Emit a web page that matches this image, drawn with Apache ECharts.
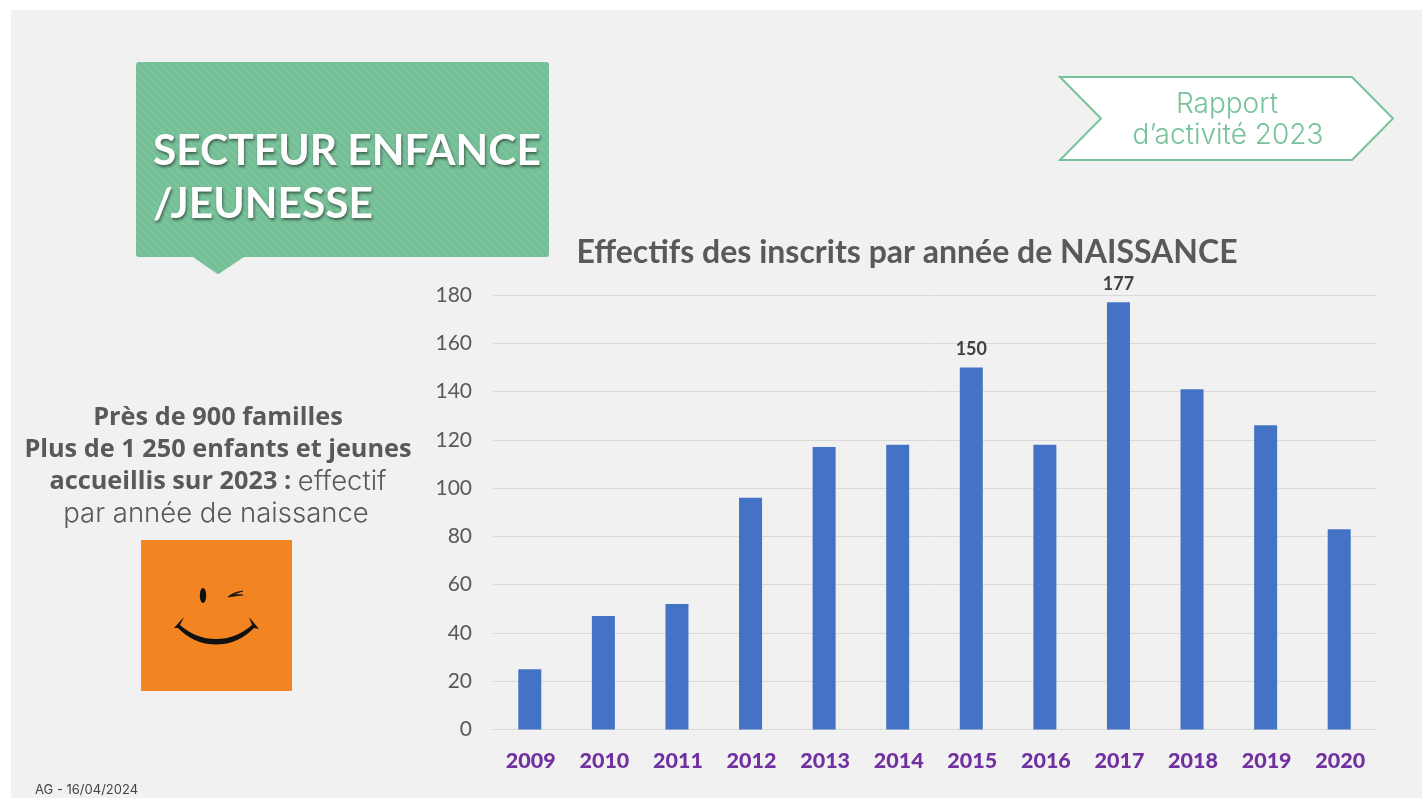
<!DOCTYPE html>
<html>
<head>
<meta charset="utf-8">
<title>Effectifs des inscrits par année de naissance</title>
<script src="https://cdn.jsdelivr.net/npm/echarts@6/dist/echarts.min.js"></script>
<style>
  html, body { margin: 0; padding: 0; background: #fff; overflow: hidden; }
  #chart { width: 1422px; height: 798px; }
</style>
</head>
<body>
<div id="chart"></div>
<script>
// données
const years = ["2009", "2010", "2011", "2012", "2013", "2014", "2015", "2016", "2017", "2018", "2019", "2020"];
const inscrits = [25, 47, 52, 96, 117, 118, 150, 118, 177, 141, 126, 83];
const labelledYears = ["2015", "2017"];
const chartTitle = "Effectifs des inscrits par année de NAISSANCE";
const sectorLines = ["SECTEUR ENFANCE", "/JEUNESSE"];
const reportLines = ["Rapport", "d’activité 2023"];
const footer = "AG - 16/04/2024";

const green = "#78c29a";
const greyText = "#595959";

// le composant graphic ne connait pas "path" : on enregistre nos formes
echarts.graphic.registerShape("callout", echarts.graphic.extendPath(
  "M139 62H546Q549 62 549 65V254Q549 257 546 257H244L220 273Q218 275 216 273L193 257H139Q136 257 136 254V65Q136 62 139 62Z", {}));
echarts.graphic.registerShape("wink", echarts.graphic.extendPath(
  "M228 597Q233 592 243 591Q237 593 233 595Q238 594 243 595Q235 596 228 597Z", {}));
echarts.graphic.registerShape("smile", echarts.graphic.extendPath(
  "M174 628L184 617L180 625Q196 639 216 639Q236 639 252 625L249 617L259 629L254 628Q238 644.5 216 644.5Q194 644.5 178 628Z", {}));

// rayures du bandeau vert
function stripes() {
  const c = document.createElement("canvas");
  c.width = 8;
  c.height = 8;
  const ctx = c.getContext("2d");
  ctx.fillStyle = "#74bf96";
  ctx.fillRect(0, 0, 8, 8);
  ctx.strokeStyle = "#7dc49e";
  ctx.lineWidth = 2.5;
  [-8, 0, 8, 16].forEach(function (o) {
    ctx.beginPath();
    ctx.moveTo(o, 0);
    ctx.lineTo(o + 8, 8);
    ctx.stroke();
  });
  return c;
}

function txt(x, y, text, size, weight, color, family, align, extra) {
  return {
    type: "text",
    x: x,
    y: y,
    z: 5,
    style: Object.assign({
      text: text,
      font: weight + " " + size + "px " + family,
      fill: color,
      align: align || "center",
      verticalAlign: "middle"
    }, extra || {})
  };
}

const gothic = "Inter, 'Noto Sans', sans-serif";
const boldSans = "'Open Sans', 'Noto Sans', sans-serif";
const titleShadow = { textShadowColor: "rgba(0,0,0,0.5)", textShadowBlur: 3, textShadowOffsetX: 1, textShadowOffsetY: 2 };

const decorations = [
  // fond de la diapo
  { type: "rect", z: -10, shape: { x: 11, y: 10, width: 1411, height: 788 }, style: { fill: "#f1f1f1" } },
  // bandeau vert
  { type: "callout", z: 1, style: { fill: { type: "pattern", image: stripes(), repeat: "repeat" } } },
  txt(153, 151, sectorLines[0], 42.5, "bold", "#ffffff", "Lato, sans-serif", "left", titleShadow),
  txt(153, 204, sectorLines[1], 42.5, "bold", "#ffffff", "Lato, sans-serif", "left", titleShadow),
  // flèche rapport d'activité
  {
    type: "polygon",
    z: 1,
    shape: { points: [[1060, 77], [1352, 77], [1393, 118.5], [1352, 160], [1060, 160], [1101, 118.5]] },
    style: { fill: "#ffffff", stroke: green, lineWidth: 2 }
  },
  txt(1227, 105, reportLines[0], 28, "300", green, gothic),
  txt(1228, 136, reportLines[1], 28, "300", green, gothic),
  // texte de gauche
  txt(218, 418, "Près de 900 familles", 25.3, "bold", greyText, boldSans),
  txt(218, 450, "Plus de 1 250 enfants et jeunes", 25.3, "bold", greyText, boldSans),
  {
    type: "text",
    x: 218,
    y: 482,
    z: 5,
    style: {
      rich: {
        b: { font: "bold 25.3px " + boldSans, fill: greyText },
        r: { font: "300 27.5px " + gothic, fill: greyText }
      },
      text: "{b|accueillis sur 2023 : }{r|effectif}",
      align: "center",
      verticalAlign: "middle"
    }
  },
  txt(216, 514, "par année de naissance", 27.5, "300", greyText, gothic),
  // carré orange et smiley
  { type: "rect", z: 1, shape: { x: 141, y: 540, width: 151, height: 151 }, style: { fill: "#f28522" } },
  { type: "ellipse", z: 2, shape: { cx: 203, cy: 595.5, rx: 3.2, ry: 7.5 }, style: { fill: "#111" } },
  { type: "wink", z: 2, style: { fill: "#111", stroke: "#111", lineWidth: 0.6 } },
  { type: "smile", z: 2, style: { fill: "#111" } },
  // pied de page
  txt(35, 790, footer, 13, "normal", "#444444", gothic, "left")
];

const chart = echarts.init(document.getElementById("chart"));
chart.setOption({
  animation: false,
  backgroundColor: "transparent",
  title: {
    text: chartTitle,
    left: 902,
    top: 232,
    textAlign: "center",
    textStyle: { fontFamily: "Lato, sans-serif", fontSize: 32, fontWeight: "bold", color: greyText }
  },
  grid: { left: 493, right: 46, top: 295, bottom: 68.5, containLabel: false },
  xAxis: {
    type: "category",
    data: years,
    axisTick: { show: false },
    axisLine: { lineStyle: { color: "#d9d9d9", width: 1 } },
    axisLabel: {
      margin: 21,
      padding: [0, 0, 0, 2],
      fontFamily: "Lato, sans-serif",
      fontSize: 21.5,
      fontWeight: 900,
      color: "#7030a0"
    }
  },
  yAxis: {
    type: "value",
    min: 0,
    max: 180,
    interval: 20,
    axisLine: { show: false },
    axisTick: { show: false },
    axisLabel: { margin: 21, padding: [2, 0, 0, 0], fontFamily: "Lato, sans-serif", fontSize: 21, color: greyText },
    splitLine: { lineStyle: { color: "#d9d9d9", width: 1 } }
  },
  series: [
    {
      type: "bar",
      data: inscrits,
      barWidth: 23,
      itemStyle: { color: "#4472c4" },
      label: {
        show: true,
        position: "top",
        distance: 9,
        fontFamily: "Lato, sans-serif",
        fontSize: 18,
        fontWeight: "bold",
        color: "#404040",
        formatter: function (p) {
          return labelledYears.indexOf(p.name) >= 0 ? p.value : "";
        }
      }
    }
  ],
  graphic: { elements: decorations }
});
</script>
</body>
</html>
